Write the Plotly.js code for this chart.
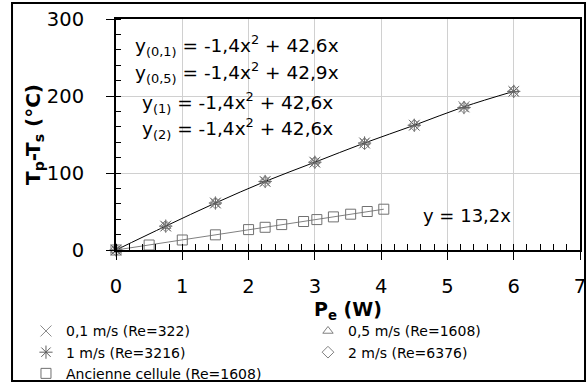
<!DOCTYPE html>
<html>
<head>
<meta charset="utf-8">
<script src="https://cdn.plot.ly/plotly-3.0.1.min.js"></script>
<style>html,body{margin:0;padding:0;background:#fff;}#chart{width:588px;height:383px;}</style>
</head>
<body>
<div id="chart"></div>
<script>
// ---- data ----
const xMain = [0, 0.75, 1.5, 2.25, 3, 3.75, 4.5, 5.25, 6];
const y01 = [0, 31, 61, 89, 114, 139, 162, 186, 206];
const y05 = [0, 31, 62, 90, 115, 140, 164, 187, 208];
const y1  = [0, 31, 61, 89, 114, 139, 162, 185, 206];
const y2  = [0, 31, 61, 89, 114, 138, 162, 185, 206];
const xOld = [0, 0.5, 1, 1.5, 2, 2.25, 2.5, 2.83, 3.03, 3.28, 3.54, 3.79, 4.04];
const yOld = [0, 6.5, 13, 19.7, 26.5, 29.5, 33, 37, 39.5, 43, 46.5, 50, 53];
const names = ['0,1 m/s (Re=322)', '0,5 m/s (Re=1608)', '1 m/s (Re=3216)', '2 m/s (Re=6376)', 'Ancienne cellule (Re=1608)'];
const equations = [
  'y<sub>(0,1)</sub> = -1,4x<sup>2</sup> + 42,6x',
  'y<sub>(0,5)</sub> = -1,4x<sup>2</sup> + 42,9x',
  'y<sub>(1)</sub> = -1,4x<sup>2</sup> + 42,6x',
  'y<sub>(2)</sub> = -1,4x<sup>2</sup> + 42,6x'
];
const eqOld = 'y = 13,2x';

const FONT = '"DejaVu Sans", sans-serif';

const traces = [
  {x: xMain, y: y01, mode: 'lines', line: {color: '#000', width: 1, shape: 'spline'}, showlegend: false, hoverinfo: 'skip'},
  {x: [xOld[0], xOld[xOld.length - 1]], y: [yOld[0], yOld[yOld.length - 1]], mode: 'lines', line: {color: '#808080', width: 1}, showlegend: false, hoverinfo: 'skip'},
  {x: xMain, y: y01, name: names[0], mode: 'markers', cliponaxis: false,
   marker: {symbol: 'x-thin-open', size: 11, color: '#8a8a8a', line: {color: '#8a8a8a', width: 1}}},
  {x: xMain, y: y05, name: names[1], mode: 'markers', cliponaxis: false,
   marker: {symbol: 'triangle-up-open', size: 9, color: '#808080', line: {color: '#808080', width: 1}}},
  {x: xMain, y: y1, name: names[2], mode: 'markers', cliponaxis: false,
   marker: {symbol: 'asterisk-open', size: 11, color: '#606060', line: {color: '#606060', width: 1}}},
  {x: xMain, y: y2, name: names[3], mode: 'markers', cliponaxis: false,
   marker: {symbol: 'diamond-open', size: 9, color: '#808080', line: {color: '#808080', width: 1}}},
  {x: xOld, y: yOld, name: names[4], mode: 'markers', cliponaxis: false,
   marker: {symbol: 'square-open', size: 10, color: '#707070', line: {color: '#707070', width: 1}}}
];

const eqY = [266, 230, 192, 158];
const annotations = equations.map((t, i) => ({
  x: 1.83, y: eqY[i], xref: 'x', yref: 'y', text: t, showarrow: false,
  xanchor: 'center', yanchor: 'middle', font: {family: FONT, size: 18.5, color: '#000'}
}));
annotations.push({x: 5.3, y: 45, xref: 'x', yref: 'y', text: eqOld, showarrow: false,
  xanchor: 'center', yanchor: 'middle', font: {family: FONT, size: 18, color: '#000'}});

const layout = {
  width: 588, height: 383,
  margin: {l: 116, r: 8, t: 19, b: 133, autoexpand: false},
  paper_bgcolor: '#fff', plot_bgcolor: '#fff',
  font: {family: FONT, color: '#000'},
  showlegend: true,
  xaxis: {
    range: [0, 7], dtick: 1, tick0: 0, showgrid: true, gridcolor: '#d0d0d0', gridwidth: 1,
    zeroline: false, showline: true, linecolor: '#000', linewidth: 2, mirror: true,
    ticks: 'outside', ticklen: 8, tickcolor: '#000', tickwidth: 1, ticklabelstandoff: 10,
    tickfont: {family: FONT, size: 19.5, color: '#000'},
    minor: {dtick: 0.2, ticks: 'inside', ticklen: 6, tickcolor: '#000', tickwidth: 1, showgrid: false},
    title: {text: 'P<sub>e</sub> (W)', font: {family: FONT, size: 19, color: '#000', weight: 'bold'}, standoff: 2}
  },
  yaxis: {
    range: [0, 300], dtick: 100, tick0: 0, showgrid: true, gridcolor: '#d0d0d0', gridwidth: 1,
    zeroline: false, showline: true, linecolor: '#000', linewidth: 2, mirror: true,
    ticks: 'outside', ticklen: 8, tickcolor: '#000', tickwidth: 1, ticklabelstandoff: 18,
    tickfont: {family: FONT, size: 19.5, color: '#000'},
    minor: {dtick: 20, ticks: 'inside', ticklen: 5, tickcolor: '#000', tickwidth: 1, showgrid: false},
    title: {text: 'T<sub>p</sub>-T<sub>s</sub> (°C)', font: {family: FONT, size: 20, color: '#000', weight: 'bold'}, standoff: 0}
  },
  legend: {
    orientation: 'h', x: -0.194, y: -0.283, xanchor: 'left', yanchor: 'top',
    entrywidth: 237, entrywidthmode: 'pixels', itemwidth: 30,
    font: {family: FONT, size: 14, color: '#000'}, bgcolor: 'rgba(0,0,0,0)', tracegroupgap: 0
  },
  annotations: annotations,
  shapes: [{type: 'rect', xref: 'paper', yref: 'paper', x0: -0.2241, x1: 1.0108, y0: -0.567, y1: 1.0693,
    line: {color: '#000', width: 2}, fillcolor: 'rgba(0,0,0,0)', layer: 'below'}]
};

Plotly.newPlot('chart', traces, layout, {displayModeBar: false, staticPlot: true});
</script>
</body>
</html>
